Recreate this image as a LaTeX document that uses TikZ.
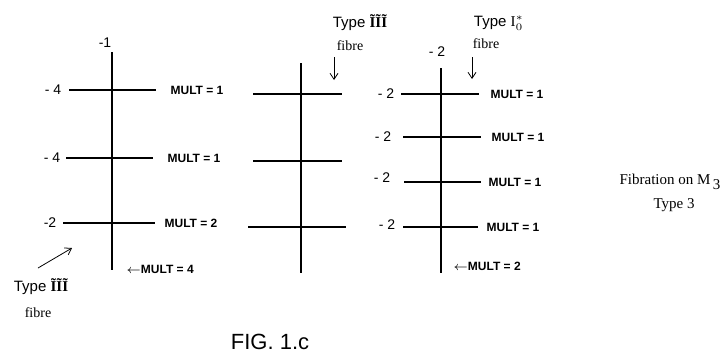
\documentclass[tikz,border=0pt]{standalone}
\usepackage{fontspec}
\setmainfont{Liberation Serif}
\setsansfont{Liberation Sans}
\usetikzlibrary{arrows.meta}
\newcommand{\tIII}{{\rmfamily\bfseries ĨĨĨ}}
\tikzset{
  curve/.style={line width=0.9pt},
  selfint/.style={font=\sffamily\fontsize{7}{8}\selectfont, inner sep=1pt},
  multlabel/.style={font=\sffamily\bfseries\fontsize{6}{7}\selectfont, inner sep=1pt},
  typelabel/.style={font=\sffamily\fontsize{7.5}{8}\selectfont, inner sep=1pt},
  fibrelabel/.style={font=\fontsize{7}{8}\selectfont, inner sep=1pt},
  pointer/.style={-{Straight Barb[length=3pt,width=4pt]}, thin}
}
\newcommand{\comp}[3]{\draw[curve] (#1,#3) -- (#2,#3);}

\begin{document}
\begin{tikzpicture}[x=0.5pt, y=-0.5pt]
  \useasboundingbox (0,0) rectangle (727,360);

  % fibre with MULT = 4
  \draw[curve] (112,52) -- (112,270);
  \comp{69}{156}{90}
  \comp{66}{153}{158}
  \comp{63}{155}{223}
  \node[selfint] (s10) at (105,43) {-1};
  \node[selfint] (s11) at (53,90) {- 4};
  \node[selfint] (s12) at (52,158) {- 4};
  \node[selfint] (s13) at (50,223) {-2};
  \node[multlabel] (m11) at (197,90) {MULT = 1};
  \node[multlabel] (m12) at (194,158) {MULT = 1};
  \node[multlabel] (m13) at (191,223) {MULT = 2};
  \node[multlabel] (m10) at (160,269) {$\leftarrow$MULT = 4};
  \node[typelabel] (t1) at (41,287) {Type \tIII};
  \node[fibrelabel] (f1) at (38,313) {fibre};
  \coordinate (p1a) at (38,268);
  \coordinate (p1b) at (72,248);
  \draw[pointer] (p1a) -- (p1b);

  % middle fibre
  \draw[curve] (301,63) -- (301,273);
  \comp{253}{342}{94}
  \comp{253}{342}{161}
  \comp{248}{346}{227}
  \node[typelabel] (t2) at (360,23) {Type \tIII};
  \node[fibrelabel] (f2) at (350,46) {fibre};
  \coordinate (p2a) at (334,57);
  \coordinate (p2b) at (334,80);
  \draw[pointer] (p2a) -- (p2b);

  % fibre with MULT = 2
  \draw[curve] (441,68) -- (441,273);
  \comp{401}{479}{94}
  \comp{403}{481}{137}
  \comp{404}{481}{182}
  \comp{403}{478}{227}
  \node[selfint] (s30) at (437,52) {- 2};
  \node[selfint] (s31) at (386,94) {- 2};
  \node[selfint] (s32) at (383,137) {- 2};
  \node[selfint] (s33) at (382,178) {- 2};
  \node[selfint] (s34) at (387,225) {- 2};
  \node[multlabel] (m31) at (517,94) {MULT = 1};
  \node[multlabel] (m32) at (518,137) {MULT = 1};
  \node[multlabel] (m33) at (515,182) {MULT = 1};
  \node[multlabel] (m34) at (513,227) {MULT = 1};
  \node[multlabel] (m30) at (487,266) {$\leftarrow$MULT = 2};
  \node[typelabel] (t3) at (499,23) {Type $\mathrm{I}_0^*$};
  \node[fibrelabel] (f3) at (486,44) {fibre};
  \coordinate (p3a) at (472,57);
  \coordinate (p3b) at (472,79);
  \draw[pointer] (p3a) -- (p3b);

  % captions
  \node[font=\fontsize{7.5}{9}\selectfont, inner sep=0pt] (cap1) at (670,182) {Fibration on M\,\raisebox{-2.5pt}{3}};
  \node[font=\fontsize{7.5}{9}\selectfont, inner sep=0pt] (cap2) at (674,205) {Type 3};
  \node[font=\sffamily\fontsize{11}{13}\selectfont, inner sep=0pt] (fig) at (270,342) {FIG.\ 1.c};
\end{tikzpicture}
\end{document}
